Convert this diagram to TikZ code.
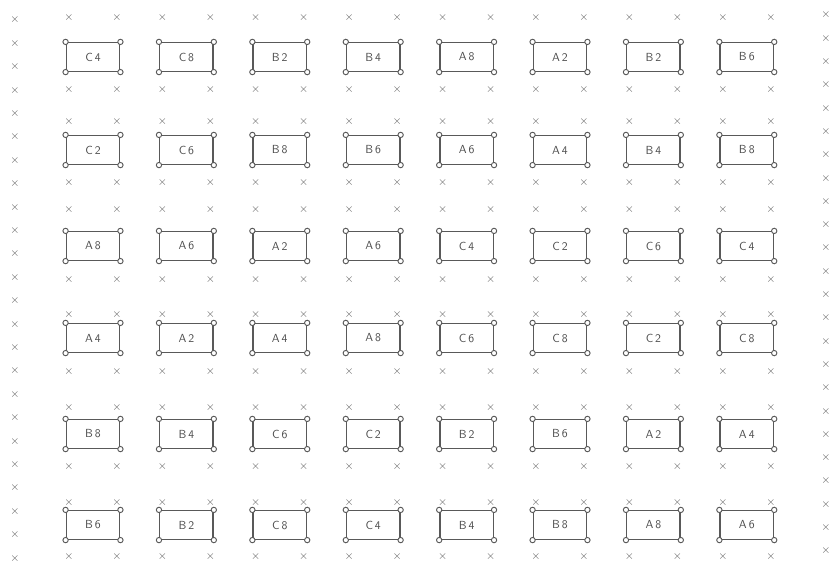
\documentclass[tikz,border=0pt]{standalone}
\usepackage{tikz}
\usetikzlibrary{calc}

\tikzset{
  plot/.style={draw=black!65, line width=1.3pt, minimum width=1.6cm, minimum height=0.86cm, inner sep=0pt, font=\sffamily, text=black!70},
  stake/.style={font=\normalsize, text=black!65, inner sep=0pt},
  peg/.style={draw=black!65, line width=0.8pt, fill=white},
}

\begin{document}
\begin{tikzpicture}[x=0.03cm, y=-0.03cm]
	\useasboundingbox (0,0) rectangle (834,562);
	% border stakes, left and right
	\foreach \i in {0,...,23} {
		\node[stake] (w\i) at (15,{20+23.4*\i}) {$\times$};
		\node[stake] (e\i) at (826,{15+23.3*\i}) {$\times$};
	}
	% row / centre / stakes above / stakes below / plots
	\foreach \r/\y/\ya/\yb/\plots in {
			1/57/18/90/{C\,4,C\,8,B\,2,B\,4,A\,8,A\,2,B\,2,B\,6},
			2/150/122/183/{C\,2,C\,6,B\,8,B\,6,A\,6,A\,4,B\,4,B\,8},
			3/246/210/280/{A\,8,A\,6,A\,2,A\,6,C\,4,C\,2,C\,6,C\,4},
			4/338/315/372/{A\,4,A\,2,A\,4,A\,8,C\,6,C\,8,C\,2,C\,8},
			5/434/408/467/{B\,8,B\,4,C\,6,C\,2,B\,2,B\,6,A\,2,A\,4},
			6/525/503/557/{B\,6,B\,2,C\,8,C\,4,B\,4,B\,8,A\,8,A\,6}} {
		\foreach \lab [count=\c] in \plots {
			\pgfmathsetmacro{\cx}{93+93.4*(\c-1)}
			\node[plot] (p\r-\c) at (\cx,\y) {\lab};
			\foreach \k in {north west,north east,south west,south east}
				\draw[peg] (p\r-\c.\k) circle (0.08cm);
			\node[stake] (a\r-\c) at (\cx-24,\ya) {$\times$};   % above left
			\node[stake] (b\r-\c) at (\cx+24,\ya) {$\times$};   % above right
			\node[stake] (c\r-\c) at (\cx-24,\yb) {$\times$};   % below left
			\node[stake] (d\r-\c) at (\cx+24,\yb) {$\times$};   % below right
		}
	}
\end{tikzpicture}
\end{document}
